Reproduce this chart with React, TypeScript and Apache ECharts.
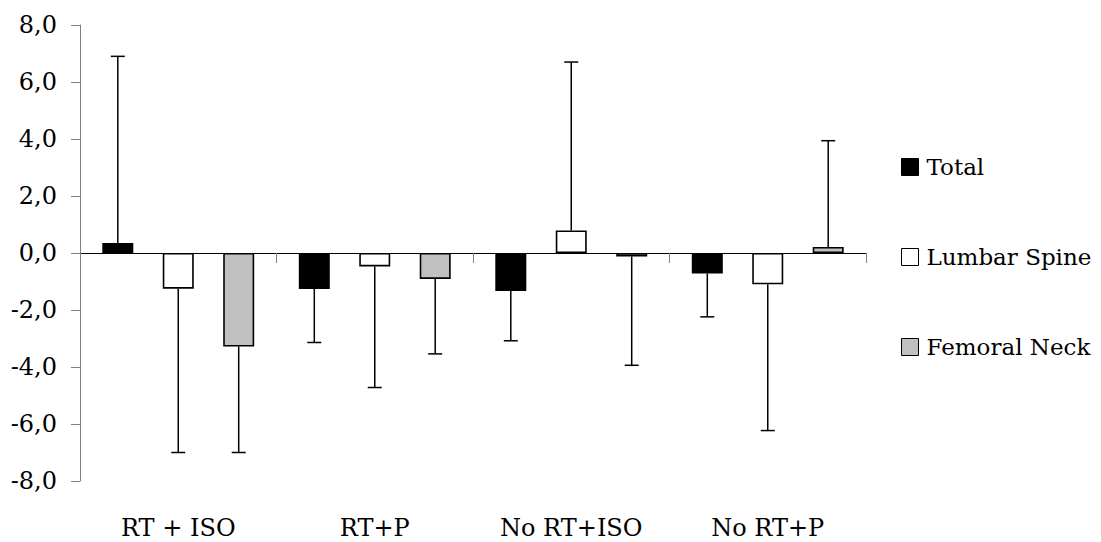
import React, { useEffect, useRef } from "react";
import * as echarts from "echarts";

const categories = ["RT + ISO", "RT+P", "No RT+ISO", "No RT+P"];
const seriesNames = ["Total", "Lumbar Spine", "Femoral Neck"];
const totalValues = [0.35, -1.26, -1.33, -0.72];
const totalErrorEnds = [6.9, -3.14, -3.08, -2.24];
const lumbarValues = [-1.25, -0.47, 0.79, -1.1];
const lumbarErrorEnds = [-7.0, -4.72, 6.7, -6.23];
const femoralValues = [-3.28, -0.91, -0.12, 0.21];
const femoralErrorEnds = [-7.0, -3.54, -3.94, 3.94];
const yTicks = { min: -8, max: 8, interval: 2 };

const FONT = "DejaVu Serif";
const FONT_SIZE = 24;
const BAR_WIDTH = 31;
const BAR_GAP = 0.95;
const colors = ["#000000", "#FFFFFF", "#C0C0C0"];

export default function App() {
  const ref = useRef<HTMLDivElement>(null);

  useEffect(() => {
    if (!ref.current) return;
    const chart = echarts.init(ref.current, null, { renderer: "svg" });
    const valuesList = [totalValues, lumbarValues, femoralValues];
    const errList = [totalErrorEnds, lumbarErrorEnds, femoralErrorEnds];

    const barSeries = seriesNames.map((name, i) => ({
      name,
      type: "bar",
      xAxisIndex: 0,
      yAxisIndex: 0,
      barWidth: BAR_WIDTH,
      barGap: `${BAR_GAP * 100}%`,
      data: valuesList[i],
      itemStyle: {
        color: colors[i],
        borderColor: "#000",
        borderWidth: 1.6,
      },
      z: 2,
    }));

    const errSeries = seriesNames.map((name, si) => ({
      name: name + " error",
      type: "custom",
      xAxisIndex: 0,
      yAxisIndex: 0,
      z: 3,
      silent: true,
      data: categories.map((_, ci) => [ci, valuesList[si][ci], errList[si][ci]]),
      renderItem: (params: any, api: any) => {
        const ci = api.value(0);
        const p1 = api.coord([ci, api.value(1)]);
        const p2 = api.coord([ci, api.value(2)]);
        const offset = (si - 1) * BAR_WIDTH * (1 + BAR_GAP);
        const x = p1[0] + offset;
        const capHalf = 7;
        const style = { stroke: "#000", lineWidth: 1.5 };
        return {
          type: "group",
          children: [
            { type: "line", shape: { x1: x, y1: p1[1], x2: x, y2: p2[1] }, style },
            { type: "line", shape: { x1: x - capHalf, y1: p2[1], x2: x + capHalf, y2: p2[1] }, style },
          ],
        };
      },
    }));

    chart.setOption({
      animation: false,
      backgroundColor: "#fff",
      textStyle: { fontFamily: FONT },
      grid: { left: 80, right: 235, top: 25, bottom: 61, containLabel: false },
      legend: {
        orient: "vertical",
        left: 896,
        top: 150,
        data: seriesNames,
        icon: "rect",
        itemWidth: 17,
        itemHeight: 17,
        itemGap: 66,
        itemStyle: { borderWidth: 1, borderColor: "#000" },
        textStyle: {
          fontFamily: FONT,
          fontSize: 23,
          lineHeight: 24,
          color: "#000",
          padding: [0, 0, 0, 3],
        },
        selectedMode: false,
      },
      xAxis: [
        {
          type: "category",
          data: categories,
          axisLine: { show: true, onZero: true, lineStyle: { color: "#000", width: 1 } },
          axisTick: { show: true, length: 10, lineStyle: { color: "#808080" } },
          axisLabel: { show: false },
          splitLine: { show: false },
        },
        {
          type: "category",
          data: categories,
          position: "bottom",
          axisLine: { show: false, onZero: false },
          axisTick: { show: false },
          axisLabel: {
            show: true,
            margin: 35,
            fontFamily: FONT,
            fontSize: FONT_SIZE,
            color: "#000",
          },
          splitLine: { show: false },
        },
      ],
      yAxis: {
        type: "value",
        min: yTicks.min,
        max: yTicks.max,
        interval: yTicks.interval,
        axisLine: { show: true, lineStyle: { color: "#808080", width: 1 } },
        axisTick: { show: true, length: 9, lineStyle: { color: "#808080" } },
        axisLabel: {
          margin: 23,
          fontFamily: FONT,
          fontSize: FONT_SIZE,
          color: "#000",
          formatter: (v: number) => v.toFixed(1).replace(".", ","),
        },
        splitLine: { show: false },
      },
      series: [...barSeries, ...errSeries],
    });

    return () => chart.dispose();
  }, []);

  return (
    <div
      ref={ref}
      style={{ position: "fixed", left: 0, top: 0, width: 1101, height: 542, background: "#fff" }}
    />
  );
}
